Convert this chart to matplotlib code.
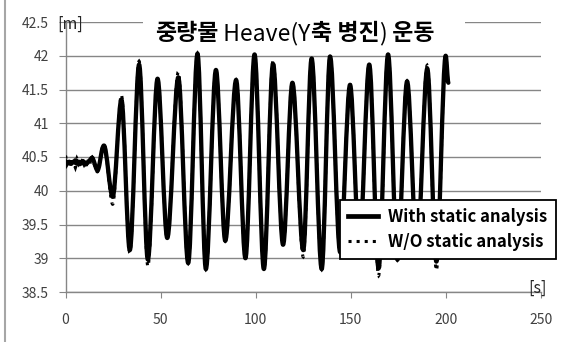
import numpy as np
import matplotlib
matplotlib.use("Agg")
import matplotlib.pyplot as plt
from matplotlib.path import Path
from matplotlib.patches import PathPatch, Rectangle
from matplotlib.lines import Line2D
from matplotlib.text import Annotation

# 폰트 설정
plt.rcParams['font.family'] = ['Noto Sans CJK KR', 'DejaVu Sans']
plt.rcParams['axes.unicode_minus'] = False

# 1. 데이터 (그림에서 읽은 값: 초기 흔들림 + 각 극값)
time_with = [0, 1, 2, 3, 4, 5, 6, 7, 8, 9, 10, 11, 12, 13, 14, 15, 16, 16.8, 17.8, 19, 20.2,
             24.8, 29.4, 33.8, 38.7, 43.3, 48.4, 53.5, 59.3, 64.5, 69.4, 73.8, 79.1, 84.0,
             89.7, 94.6, 99.4, 104.3, 109.1, 114.4, 119.3, 125.0, 129.4, 134.7, 139.1, 144.4,
             149.6, 154.5, 159.7, 164.6, 169.6, 174.5, 179.6, 184.8, 190.2, 195.0, 199.9, 201.3]
heave_with = [40.44, 40.41, 40.43, 40.40, 40.43, 40.42, 40.40, 40.43, 40.41, 40.44, 40.42,
              40.40, 40.43, 40.46, 40.49, 40.43, 40.34, 40.30, 40.38, 40.58, 40.67,
              39.91, 41.35, 39.12, 41.87, 38.98, 41.66, 39.30, 41.68, 38.93, 42.03, 38.84,
              41.79, 39.26, 41.64, 39.00, 42.02, 38.84, 41.88, 39.20, 41.60, 39.12, 41.96,
              38.84, 41.99, 39.09, 41.57, 39.18, 41.87, 38.85, 42.02, 38.98, 41.62, 39.12,
              41.81, 38.95, 42.00, 41.60]

time_wo = [0, 0.7, 1.5, 2.2, 3, 3.7, 4.5, 5.2, 6, 6.8, 7.5, 8.3, 9, 9.8, 10.5, 11.3, 12, 12.8,
           13.5, 14.3, 15, 16, 16.8, 17.8, 19, 20.2,
           24.8, 29.4, 33.8, 38.7, 43.3, 48.4, 53.5, 59.3, 64.5, 69.4, 73.8, 79.1, 84.0,
           89.7, 94.6, 99.4, 104.3, 109.1, 114.4, 119.3, 125.0, 129.4, 134.7, 139.1, 144.4,
           149.6, 154.5, 159.7, 164.6, 169.6, 174.5, 179.6, 184.8, 190.2, 195.0, 199.9, 201.3]
heave_wo = [40.52, 40.38, 40.46, 40.35, 40.47, 40.37, 40.44, 40.34, 40.48, 40.39, 40.45, 40.36,
            40.47, 40.38, 40.44, 40.35, 40.46, 40.40, 40.52, 40.45, 40.40, 40.31, 40.28, 40.40,
            40.60, 40.69,
            39.80, 41.42, 39.08, 41.92, 38.88, 41.67, 39.29, 41.76, 38.92, 42.04, 38.83,
            41.80, 39.25, 41.65, 38.99, 42.03, 38.83, 41.93, 39.19, 41.61, 39.02, 41.97,
            38.83, 42.00, 39.08, 41.58, 39.17, 41.88, 38.74, 42.03, 38.97, 41.63, 39.11,
            41.86, 38.82, 42.01, 41.58]

x_ticks = [0, 50, 100, 150, 200, 250]
y_ticks = [38.5, 39, 39.5, 40, 40.5, 41, 41.5, 42, 42.5]
y_tick_labels = ['38.5', '39', '39.5', '40', '40.5', '41', '41.5', '42', '42.5']
series_labels = ['With static analysis', 'W/O static analysis']

title_parts = [('중량물', 'bold'), (' Heave(Y', 'normal'), ('축 병진', 'bold'),
               (')', 'normal'), (' 운동', 'bold')]


# 점들을 부드러운 곡선으로 연결 (극값에서는 접선이 수평)
def smooth_path(t, y):
    t = np.asarray(t, float)
    y = np.asarray(y, float)
    n = len(t)
    m = np.zeros(n)
    for i in range(1, n - 1):
        if (y[i] - y[i - 1]) * (y[i + 1] - y[i]) > 0:
            m[i] = (y[i + 1] - y[i - 1]) / (t[i + 1] - t[i - 1])
    verts = [(t[0], y[0])]
    codes = [Path.MOVETO]
    for i in range(n - 1):
        h = t[i + 1] - t[i]
        verts += [(t[i] + h / 3, y[i] + m[i] * h / 3),
                  (t[i + 1] - h / 3, y[i + 1] - m[i + 1] * h / 3),
                  (t[i + 1], y[i + 1])]
        codes += [Path.CURVE4] * 3
    return Path(verts, codes)


W, H = 565, 342
fig = plt.figure(figsize=(W / 100, H / 100), dpi=100)
ax = fig.add_axes([65.5 / W, 1 - 292 / H, (541 - 65.5) / W, (292 - 22) / H])

grid_c = '#868686'
ax.set_xlim(0, 250)
ax.set_ylim(38.5, 42.5)
ax.set_xticks(x_ticks)
ax.set_yticks(y_ticks)
ax.set_yticklabels(y_tick_labels)
ax.grid(axis='y', color=grid_c, lw=1)
ax.set_axisbelow(True)
for s in ['top', 'right']:
    ax.spines[s].set_visible(False)
for s in ['left', 'bottom']:
    ax.spines[s].set_color(grid_c)
    ax.spines[s].set_linewidth(1)
ax.tick_params(axis='x', direction='out', length=4, color=grid_c, pad=11,
               labelsize=10, labelcolor='#404040')
ax.tick_params(axis='y', direction='out', length=5, color=grid_c, pad=7,
               labelsize=10, labelcolor='#404040')

# 2. 곡선 그리기
ax.add_patch(PathPatch(smooth_path(time_with, heave_with), fill=False, edgecolor='black',
                       lw=3.1, capstyle='round', joinstyle='round', zorder=3))
ax.add_patch(PathPatch(smooth_path(time_wo, heave_wo), fill=False, edgecolor='black',
                       lw=2.2, linestyle=':', zorder=4))

# 3. 범례
handles = [Line2D([], [], color='black', lw=3.4),
           Line2D([], [], color='black', lw=2.2, ls=':')]
leg = fig.legend(handles, series_labels, loc='upper left',
                 bbox_to_anchor=(340 / W, 1 - 200 / H), borderaxespad=0,
                 fancybox=False, edgecolor='black', framealpha=1,
                 handlelength=1.8, handletextpad=0.6, borderpad=0.5, labelspacing=0.4,
                 prop={'weight': 'bold', 'size': 12})
leg.get_frame().set_linewidth(1.3)

# 4. 제목 (한글은 굵게, 영문은 보통)
fig.add_artist(Rectangle((143 / W, 1 - 32 / H), (465 - 143) / W, 16 / H,
                         transform=fig.transFigure, facecolor='white',
                         edgecolor='none', zorder=1))
prev = None
for text, weight in title_parts:
    if prev is None:
        prev = fig.text(155 / W, 1 - 40 / H, text, fontsize=16.5, fontweight=weight,
                        va='baseline', ha='left', zorder=2)
    else:
        prev = fig.add_artist(Annotation(text, xy=(1, 0), xycoords=prev, fontsize=16.5,
                                         fontweight=weight, va='bottom', ha='left',
                                         zorder=2))

fig.text(57 / W, 1 - 24 / H, '[m]', fontsize=11.5, color='#262626', va='center')
fig.text(528 / W, 1 - 288 / H, '[s]', fontsize=11.5, color='#262626', va='center')

# 왼쪽 테두리
fig.add_artist(Line2D([5 / W, 5 / W], [0, 1], transform=fig.transFigure,
                      color='#a6a6a6', lw=1.5))

fig.savefig('out.png', dpi=100)
